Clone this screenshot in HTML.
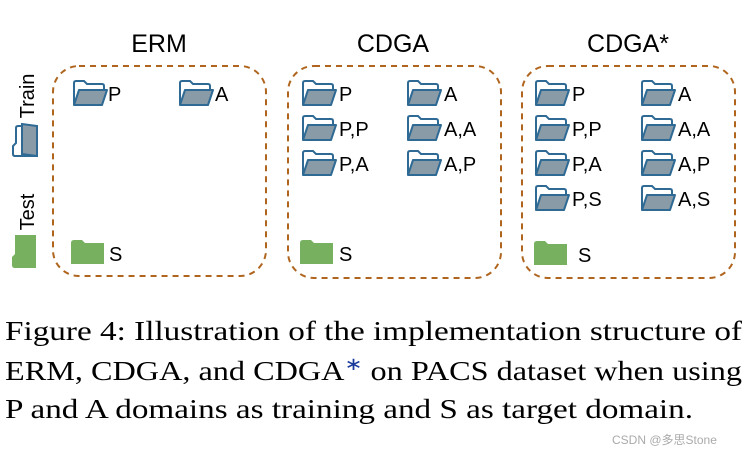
<!DOCTYPE html>
<html><head><style>
body{margin:0;background:#fff;}
svg{display:block;}
.t{font-family:"Liberation Sans",sans-serif;font-size:20px;fill:#000;}
.h{font-family:"Liberation Sans",sans-serif;font-size:25px;fill:#000;}
.c{font-family:"Liberation Serif",serif;font-size:27px;fill:#000;}
</style></head><body>
<svg width="755" height="453" viewBox="0 0 755 453">
<defs>
<g id="of">
<path d="M2,25 V3 Q2,1 4,1 H12 L15,4 H30 Q32,4 32,6 V9" fill="#fff" stroke="#2e6a94" stroke-width="2"/>
<path d="M2,25 L7,10 H35 L30,25 Z" fill="#8a9ba8" stroke="#2e6a94" stroke-width="2" stroke-linejoin="round"/>
</g>
<g id="gf">
<path d="M0,4 Q0,1 3,1 H11 L14,4 H33 V25 H0 Z" fill="#77b05e"/>
</g>
</defs>
<text class="h" x="159" y="52" text-anchor="middle">ERM</text>
<text class="h" x="393" y="52" text-anchor="middle">CDGA</text>
<text class="h" x="628" y="52" text-anchor="middle">CDGA*</text>
<g fill="none" stroke="#b0651e" stroke-width="2" stroke-dasharray="6,5">
<rect x="53" y="66" width="213" height="210" rx="26"/>
<rect x="288" y="66" width="213" height="212" rx="26"/>
<rect x="522" y="66" width="213" height="212" rx="26"/>
</g>
<!-- legend -->
<text class="t" transform="translate(34,96) rotate(-90)" text-anchor="middle">Train</text>
<text class="t" transform="translate(34,212) rotate(-90)" text-anchor="middle">Test</text>
<g transform="translate(12,158) rotate(-90)">
<path d="M2,25 V3 Q2,1 4,1 H12 L15,4 H30 Q32,4 32,6 V9" fill="#fff" stroke="#2e6a94" stroke-width="2"/>
<path d="M2,25 L4,10 H34 L32,25 Z" fill="#8a9ba8" stroke="#2e6a94" stroke-width="2"/>
</g>
<g transform="translate(11,268) rotate(-90)"><use href="#gf"/></g>
<!-- ERM -->
<use href="#of" x="72" y="80"/><text class="t" x="108" y="101">P</text>
<use href="#of" x="178" y="80"/><text class="t" x="215" y="101">A</text>
<use href="#gf" x="71" y="239"/><text class="t" x="109" y="261">S</text>
<!-- CDGA -->
<use href="#of" x="301" y="80"/><text class="t" x="339" y="101">P</text>
<use href="#of" x="406" y="80"/><text class="t" x="444" y="101">A</text>
<use href="#of" x="301" y="115"/><text class="t" x="339" y="136">P,P</text>
<use href="#of" x="406" y="115"/><text class="t" x="444" y="136">A,A</text>
<use href="#of" x="301" y="150"/><text class="t" x="339" y="171">P,A</text>
<use href="#of" x="406" y="150"/><text class="t" x="444" y="171">A,P</text>
<use href="#gf" x="300" y="239"/><text class="t" x="339" y="261">S</text>
<!-- CDGA* -->
<use href="#of" x="534" y="80"/><text class="t" x="572" y="101">P</text>
<use href="#of" x="640" y="80"/><text class="t" x="678" y="101">A</text>
<use href="#of" x="534" y="115"/><text class="t" x="572" y="136">P,P</text>
<use href="#of" x="640" y="115"/><text class="t" x="678" y="136">A,A</text>
<use href="#of" x="534" y="150"/><text class="t" x="572" y="171">P,A</text>
<use href="#of" x="640" y="150"/><text class="t" x="678" y="171">A,P</text>
<use href="#of" x="534" y="185"/><text class="t" x="572" y="206">P,S</text>
<use href="#of" x="640" y="185"/><text class="t" x="678" y="206">A,S</text>
<use href="#gf" x="534" y="240"/><text class="t" x="578" y="262">S</text>
<!-- caption -->
<text class="c" x="5" y="340" textLength="737" lengthAdjust="spacingAndGlyphs">Figure 4: Illustration of the implementation structure of</text>
<text class="c" x="5" y="380" textLength="737" lengthAdjust="spacingAndGlyphs">ERM, CDGA, and CDGA<tspan font-size="18" dy="-10" fill="#1a3a9a">∗</tspan><tspan dy="10"> on PACS dataset when using</tspan></text>
<text class="c" x="5" y="418" textLength="688" lengthAdjust="spacingAndGlyphs">P and A domains as training and S as target domain.</text>
<text x="612" y="444" font-family="Liberation Sans,'Noto Sans CJK SC',sans-serif" font-size="12" fill="#aaa">CSDN @多思Stone</text>
</svg>
</body></html>
